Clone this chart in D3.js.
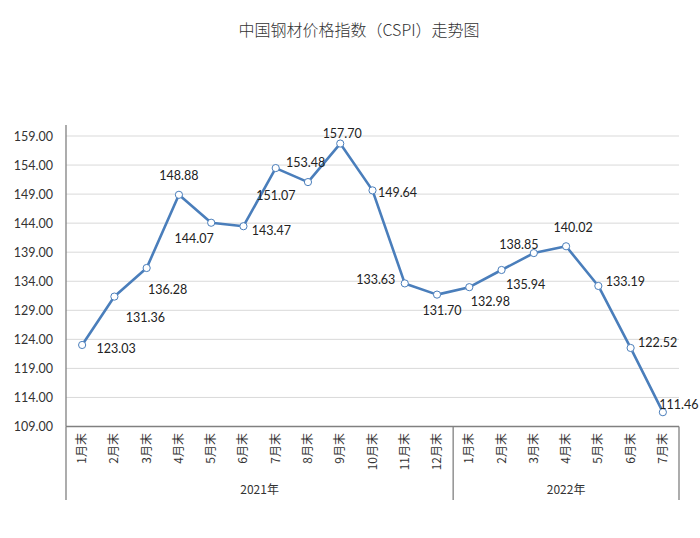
<!DOCTYPE html>
<html><head><meta charset="utf-8">
<script src="https://cdn.jsdelivr.net/npm/d3@7"></script>
<style>body{margin:0;background:#fff}svg{display:block}</style>
</head><body><div id="chart"></div>
<script>
const months = ["1月末","2月末","3月末","4月末","5月末","6月末","7月末","8月末","9月末","10月末","11月末","12月末","1月末","2月末","3月末","4月末","5月末","6月末","7月末"];
const years = ["2021年","2022年"];
const yearOfMonth = [0,0,0,0,0,0,0,0,0,0,0,0,1,1,1,1,1,1,1];
const values = [123.03,131.36,136.28,148.88,144.07,143.47,153.48,151.07,157.70,149.64,133.63,131.70,132.98,135.94,138.85,140.02,133.19,122.52,111.46];
const yTicks = [109,114,119,124,129,134,139,144,149,154,159];
// label offsets relative to point (dx, dy) as placed in the original
const labelDx = [34,31,21,0,-17,28,30,-32,2,25,-29,5,21,24,-15,7,27,27,16];
const labelDy = [4,21,21,-19,16,4,-6,13,-10,2,-4,16,14,15,-9,-19,-4,-5,-8];

const W=700,H=538;
const m={l:66,r:679,t:136,b:426.5};
const svg=d3.select("#chart").append("svg").attr("width",W).attr("height",H);

const x=d3.scaleBand().domain(d3.range(months.length)).range([m.l,m.r]);
const y=d3.scaleLinear().domain([109,159]).range([m.b,m.t]);

svg.append("text").attr("x",359).attr("y",36).attr("text-anchor","middle")
  .style("font-family","'Noto Sans CJK SC'").style("font-weight",300).style("font-size","16px").style("fill","#333")
  .text("中国钢材价格指数（CSPI）走势图");

// gridlines
svg.append("g").selectAll("line").data(yTicks.slice(1)).join("line")
  .attr("x1",m.l).attr("x2",m.r).attr("y1",d=>y(d)).attr("y2",d=>y(d))
  .attr("stroke","#d9d9d9").attr("stroke-width",1);

// y axis
const yAxis=svg.append("g").attr("transform",`translate(${m.l},0)`)
  .call(d3.axisLeft(y).tickValues(yTicks).tickFormat(d3.format(".2f")).tickSize(0).tickPadding(13));
yAxis.select(".domain").remove();
yAxis.selectAll("text").style("font-family","Lato").style("font-size","12.5px").style("fill","#333");
svg.append("line").attr("x1",m.l).attr("x2",m.l).attr("y1",125).attr("y2",m.b).attr("stroke","#808080").attr("stroke-width",1.3);

// x axis line
svg.append("line").attr("x1",m.l).attr("x2",m.r).attr("y1",m.b).attr("y2",m.b).attr("stroke","#808080").attr("stroke-width",1.3);

// category separators
const sepIdx=[0,12,19];
svg.append("g").selectAll("line").data(sepIdx).join("line")
  .attr("x1",d=>d<months.length?x(d):m.r).attr("x2",d=>d<months.length?x(d):m.r)
  .attr("y1",m.b).attr("y2",500).attr("stroke","#808080").attr("stroke-width",1.3);

// month labels
svg.append("g").selectAll("text").data(months).join("text")
  .attr("transform",(d,i)=>`translate(${x(i)+x.bandwidth()/2+4},433) rotate(-90)`)
  .attr("text-anchor","end")
  .style("font-family","'Noto Sans CJK SC'").style("font-size","12px").style("fill","#333")
  .text(d=>d);

// year labels
svg.append("g").selectAll("text").data(years).join("text")
  .attr("x",(d,k)=>{const idx=d3.range(months.length).filter(i=>yearOfMonth[i]===k);return (x(idx[0])+x(idx[idx.length-1])+x.bandwidth())/2;})
  .attr("y",494).attr("text-anchor","middle")
  .style("font-family","'Noto Sans CJK SC'").style("font-size","12px").style("fill","#333")
  .text(d=>d);

// line
const line=d3.line().x((d,i)=>x(i)+x.bandwidth()/2).y(d=>y(d));
svg.append("path").datum(values).attr("d",line).attr("fill","none")
  .attr("stroke","#4a7ebb").attr("stroke-width",2.6).attr("stroke-linejoin","round");

svg.append("g").selectAll("circle").data(values).join("circle")
  .attr("cx",(d,i)=>x(i)+x.bandwidth()/2).attr("cy",d=>y(d)).attr("r",3.6)
  .attr("fill","#fff").attr("stroke","#4a7ebb").attr("stroke-width",1);

// data labels
svg.append("g").selectAll("text").data(values).join("text")
  .attr("x",(d,i)=>x(i)+x.bandwidth()/2+labelDx[i])
  .attr("y",(d,i)=>y(d)+labelDy[i]+4.5)
  .attr("text-anchor","middle")
  .style("font-family","Lato").style("font-size","12.5px").style("fill","#222")
  .text(d=>d3.format(".2f")(d));
</script></body></html>
